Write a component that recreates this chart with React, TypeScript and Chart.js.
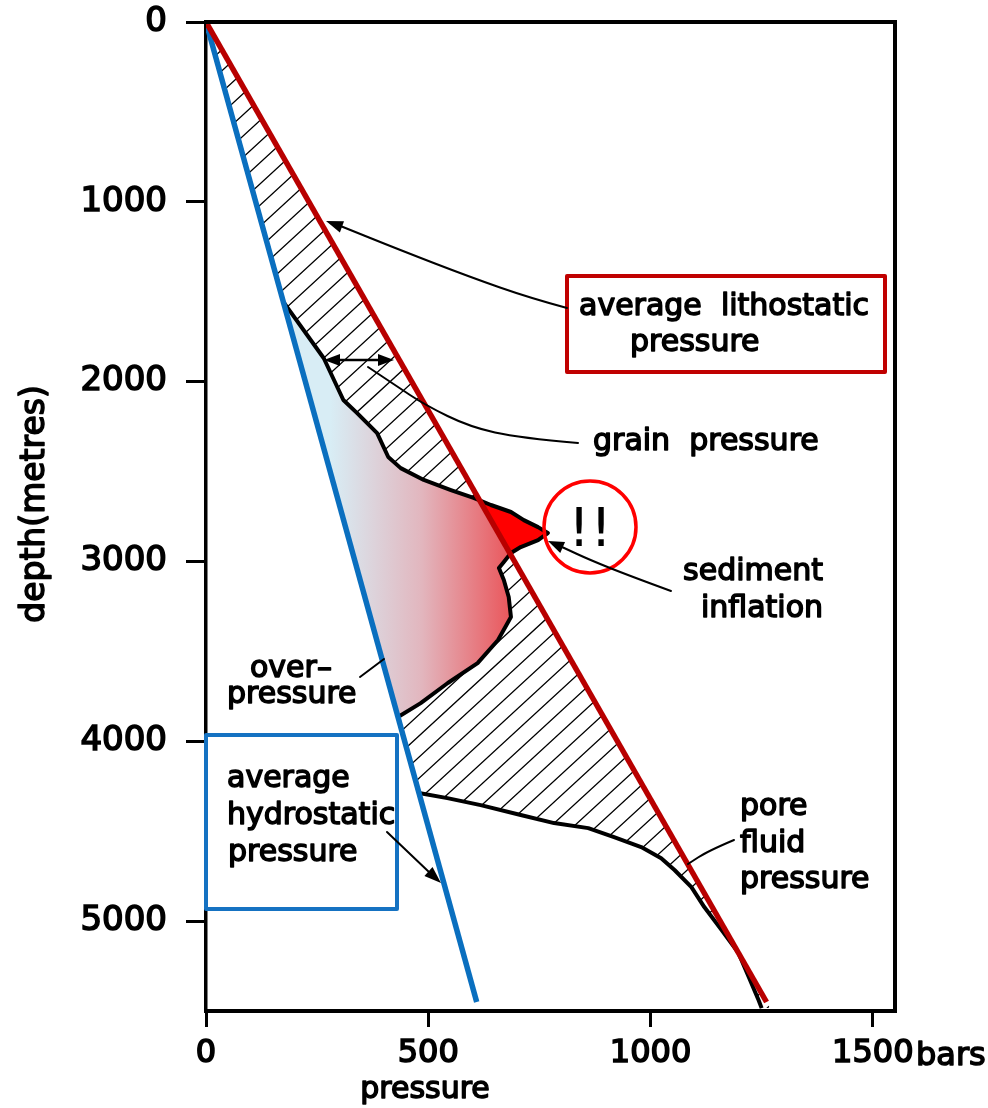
import React, { useEffect, useRef } from "react";
import { Chart, registerables } from "chart.js";

Chart.register(...registerables);

const FONT = '"DejaVu Sans", "Liberation Sans", sans-serif';

// ---------------- data ----------------
const depthTicks = [0, 1000, 2000, 3000, 4000, 5000];
const pressureTicks = [0, 500, 1000, 1500];

const lithostaticDepth = [0, 5450];
const lithostaticPressure = [0, 1261];

const hydrostaticDepth = [0, 5450];
const hydrostaticPressure = [0, 609];

const poreDepth = [
  0, 1556, 1870, 2102, 2175, 2286, 2419, 2481, 2547, 2603, 2647, 2686, 2725,
  2770, 2809, 2842, 2881, 2920, 2953, 3003, 3037, 3103, 3198, 3309, 3437, 3565,
  3676, 3788, 3865, 4288, 4316, 4355, 4410, 4455, 4483, 4533, 4588, 4650, 4716,
  4811, 4922, 5050, 5178, 5311, 5439, 5484,
];
const porePressure = [
  0, 174, 265, 309, 340, 385, 410, 438, 490, 551, 602, 641, 686,
  715, 747, 769, 747, 708, 686, 670, 659, 670, 681, 686, 657, 611,
  544, 483, 432, 479, 543, 618, 708, 783, 860, 918, 979, 1024, 1054,
  1092, 1121, 1160, 1198, 1221, 1243, 1250,
];

// depth range of the over-pressured zone (pore pressure above hydrostatic)
const overpressureTop = 1556;
const overpressureBase = 3865;

function interp(ds: number[], ps: number[], d: number): number {
  const n = ds.length;
  let i = 0;
  if (d >= ds[n - 1]) i = n - 2;
  else {
    while (i < n - 2 && ds[i + 1] < d) i++;
  }
  const t = (d - ds[i]) / (ds[i + 1] - ds[i]);
  return ps[i] + t * (ps[i + 1] - ps[i]);
}

const toPoints = (ds: number[], ps: number[]) => ds.map((d, i) => ({ x: ps[i], y: d }));

// ---------------- drawing helpers ----------------
function head(ctx: CanvasRenderingContext2D, tx: number, ty: number, fx: number, fy: number, len = 16, half = 6) {
  const a = Math.atan2(ty - fy, tx - fx);
  ctx.beginPath();
  ctx.moveTo(tx, ty);
  ctx.lineTo(tx - len * Math.cos(a) + half * Math.sin(a), ty - len * Math.sin(a) - half * Math.cos(a));
  ctx.lineTo(tx - len * Math.cos(a) - half * Math.sin(a), ty - len * Math.sin(a) + half * Math.cos(a));
  ctx.closePath();
  ctx.fill();
}

function curve(ctx: CanvasRenderingContext2D, pts: number[][], width: number) {
  ctx.beginPath();
  ctx.lineWidth = width;
  ctx.lineCap = "round";
  ctx.lineJoin = "round";
  ctx.moveTo(pts[0][0], pts[0][1]);
  for (let i = 1; i < pts.length - 1; i++) {
    const mx = (pts[i][0] + pts[i + 1][0]) / 2;
    const my = (pts[i][1] + pts[i + 1][1]) / 2;
    ctx.quadraticCurveTo(pts[i][0], pts[i][1], mx, my);
  }
  const l = pts[pts.length - 1];
  ctx.lineTo(l[0], l[1]);
  ctx.stroke();
}

function label(ctx: CanvasRenderingContext2D, s: string, x: number, y: number, size = 30, align: CanvasTextAlign = "left", stroke = 1.5) {
  ctx.font = `${size}px ${FONT}`;
  ctx.textAlign = align;
  ctx.textBaseline = "alphabetic";
  ctx.fillStyle = "#000";
  ctx.strokeStyle = "#000";
  ctx.lineJoin = "round";
  ctx.fillText(s, x, y);
  if (stroke > 0) {
    ctx.lineWidth = stroke;
    ctx.strokeText(s, x, y);
  }
}

// ---------------- plugins ----------------
const fillsPlugin = {
  id: "fills",
  beforeDatasetsDraw(chart: any) {
    const { ctx, chartArea } = chart;
    const xs = chart.scales.x;
    const ys = chart.scales.y;
    const px = (v: number) => xs.getPixelForValue(v);
    const py = (v: number) => ys.getPixelForValue(v);
    const pore = (d: number) => interp(poreDepth, porePressure, d);
    const litho = (d: number) => interp(lithostaticDepth, lithostaticPressure, d);
    const hydro = (d: number) => interp(hydrostaticDepth, hydrostaticPressure, d);

    const range = (a: number, b: number) => {
      const s: number[] = [];
      for (let d = a; d < b; d += 4) s.push(d);
      s.push(b);
      return s;
    };

    const band = (samples: number[], L: (d: number) => number, R: (d: number) => number) => {
      ctx.beginPath();
      samples.forEach((d, i) => {
        const X = px(L(d));
        const Y = py(d);
        if (i) ctx.lineTo(X, Y);
        else ctx.moveTo(X, Y);
      });
      for (let i = samples.length - 1; i >= 0; i--) ctx.lineTo(px(R(samples[i])), py(samples[i]));
      ctx.closePath();
    };

    const all = range(0, poreDepth[poreDepth.length - 1]);
    const over = range(overpressureTop, overpressureBase);

    ctx.save();
    // over-pressure gradient
    band(over, hydro, (d) => Math.max(hydro(d), Math.min(pore(d), litho(d))));
    const g = ctx.createLinearGradient(px(280), 0, px(690), 0);
    g.addColorStop(0, "#d8edf5");
    g.addColorStop(0.5, "#e2b6be");
    g.addColorStop(1, "#ea5459");
    ctx.fillStyle = g;
    ctx.fill();

    // sediment inflation (pore > lithostatic)
    band(all, litho, (d) => Math.max(litho(d), pore(d)));
    ctx.fillStyle = "#ff0000";
    ctx.fill();

    // grain pressure hatch
    band(all, pore, (d) => Math.max(pore(d), litho(d)));
    ctx.save();
    ctx.clip();
    ctx.strokeStyle = "#000";
    ctx.lineWidth = 1.3;
    const slope = 0.92;
    const top = chartArea.top;
    const bot = chartArea.bottom;
    const span = (bot - top) / slope;
    ctx.beginPath();
    for (let x0 = chartArea.left - span; x0 < chartArea.right + 20; x0 += 23) {
      ctx.moveTo(x0, bot);
      ctx.lineTo(x0 + span, top);
    }
    ctx.stroke();
    ctx.restore();
    ctx.restore();
  },
};

const annotPlugin = {
  id: "annot",
  afterDraw(chart: any) {
    const { ctx, chartArea } = chart;
    ctx.save();
    // frame top & right
    ctx.strokeStyle = "#000";
    ctx.lineWidth = 4;
    ctx.lineCap = "square";
    ctx.beginPath();
    ctx.moveTo(chartArea.left, chartArea.top);
    ctx.lineTo(chartArea.right, chartArea.top);
    ctx.lineTo(chartArea.right, chartArea.bottom);
    ctx.stroke();

    // axis titles
    label(ctx, "pressure", 425, 1098, 30, "center");
    label(ctx, "bars", 916, 1065, 32, "left");
    ctx.save();
    ctx.translate(44, 504);
    ctx.rotate(-Math.PI / 2);
    label(ctx, "depth(metres)", 0, 0, 33, "center");
    ctx.restore();

    // lithostatic box
    ctx.strokeStyle = "#c00000";
    ctx.lineWidth = 4;
    ctx.strokeRect(567, 276, 318, 96);
    label(ctx, "average  lithostatic", 579, 315);
    label(ctx, "pressure", 630, 351);
    ctx.strokeStyle = "#000";
    ctx.fillStyle = "#000";
    curve(ctx, [[567, 308], [530, 298], [470, 277], [400, 250], [338, 225]], 2);
    head(ctx, 326, 221, 345, 228, 17, 6);

    // grain pressure
    label(ctx, "grain  pressure", 593, 450);
    ctx.strokeStyle = "#000";
    curve(ctx, [[578, 443], [520, 438], [470, 427], [425, 405], [395, 385], [368, 367]], 2);
    ctx.lineWidth = 2.5;
    ctx.beginPath();
    ctx.moveTo(335, 360);
    ctx.lineTo(382, 360);
    ctx.stroke();
    ctx.fillStyle = "#000";
    head(ctx, 324, 360, 340, 360, 16, 6);
    head(ctx, 394, 360, 378, 360, 16, 6);

    // sediment inflation
    ctx.strokeStyle = "#ff0000";
    ctx.lineWidth = 3.5;
    ctx.beginPath();
    ctx.arc(590, 527, 46, 0, Math.PI * 2);
    ctx.stroke();
    label(ctx, "!", 579, 546, 54, "center", 0);
    label(ctx, "!", 601, 546, 54, "center", 0);
    label(ctx, "sediment", 823, 580, 30, "right");
    label(ctx, "inflation", 823, 617, 30, "right");
    ctx.strokeStyle = "#000";
    ctx.fillStyle = "#000";
    curve(ctx, [[671, 591], [630, 576], [590, 560], [562, 547]], 2);
    head(ctx, 548, 541, 564, 548, 16, 6);

    // over-pressure
    label(ctx, "over–", 250, 677);
    label(ctx, "pressure", 227, 703);
    ctx.strokeStyle = "#000";
    ctx.lineWidth = 2;
    ctx.beginPath();
    ctx.moveTo(360, 677);
    ctx.lineTo(384, 659);
    ctx.stroke();

    // hydrostatic box
    ctx.strokeStyle = "#1572c2";
    ctx.lineWidth = 4;
    ctx.strokeRect(206, 735, 191, 174);
    label(ctx, "average", 227, 787);
    label(ctx, "hydrostatic", 227, 824);
    label(ctx, "pressure", 228, 861);
    ctx.strokeStyle = "#000";
    ctx.fillStyle = "#000";
    ctx.lineWidth = 2;
    ctx.beginPath();
    ctx.moveTo(387, 832);
    ctx.lineTo(430, 873);
    ctx.stroke();
    head(ctx, 441, 883, 429, 872, 17, 6);

    // pore fluid pressure
    label(ctx, "pore", 740, 815);
    label(ctx, "fluid", 740, 852);
    label(ctx, "pressure", 740, 888);
    curve(ctx, [[734, 840], [708, 851], [688, 864]], 2);
    ctx.restore();
  },
};

export default function App() {
  const ref = useRef<HTMLCanvasElement | null>(null);
  useEffect(() => {
    if (!ref.current) return;
    const chart = new Chart(ref.current, {
      type: "scatter",
      data: {
        datasets: [
          {
            label: "average lithostatic pressure",
            data: toPoints(lithostaticDepth, lithostaticPressure),
            showLine: true,
            borderColor: "#b80000",
            borderWidth: 5.5,
            pointRadius: 0,
            order: 0,
          },
          {
            label: "average hydrostatic pressure",
            data: toPoints(hydrostaticDepth, hydrostaticPressure),
            showLine: true,
            borderColor: "#0a6fbf",
            borderWidth: 5.5,
            pointRadius: 0,
            order: 1,
          },
          {
            label: "pore fluid pressure",
            data: toPoints(poreDepth, porePressure),
            showLine: true,
            borderColor: "#000000",
            borderWidth: 4,
            borderJoinStyle: "round",
            pointRadius: 0,
            order: 2,
          },
        ],
      } as any,
      options: {
        animation: false,
        responsive: false,
        maintainAspectRatio: false,
        devicePixelRatio: 1,
        layout: { padding: { left: 0, top: 22, right: 93, bottom: 0 } },
        plugins: { legend: { display: false }, tooltip: { enabled: false } },
        scales: {
          x: {
            type: "linear",
            position: "bottom",
            min: 0,
            max: 1550,
            afterFit: (s: any) => {
              s.height = 97;
              s.paddingLeft = 0;
              s.paddingRight = 0;
            },
            afterBuildTicks: (s: any) => {
              s.ticks = pressureTicks.map((v) => ({ value: v }));
            },
            grid: { drawOnChartArea: false, drawTicks: true, tickLength: 16, tickWidth: 3, tickColor: "#000", color: "#000", lineWidth: 3 },
            border: { display: true, color: "#000", width: 4 },
            ticks: {
              font: { family: FONT, size: 32 },
              color: "#000",
              padding: 7,
              maxRotation: 0,
              autoSkip: false,
              textStrokeColor: "#000",
              textStrokeWidth: 1.6,
              callback: (v: any) => String(v),
            },
          },
          y: {
            type: "linear",
            reverse: true,
            min: 0,
            max: 5500,
            afterFit: (s: any) => {
              s.width = 206;
              s.paddingTop = 0;
              s.paddingBottom = 0;
            },
            afterBuildTicks: (s: any) => {
              s.ticks = depthTicks.map((v) => ({ value: v }));
            },
            grid: { drawOnChartArea: false, drawTicks: true, tickLength: 20, tickWidth: 3, tickColor: "#000", color: "#000", lineWidth: 3 },
            border: { display: true, color: "#000", width: 3.5 },
            ticks: {
              font: { family: FONT, size: 34 },
              color: "#000",
              padding: 19,
              autoSkip: false,
              textStrokeColor: "#000",
              textStrokeWidth: 1.6,
              callback: (v: any) => String(v),
            },
          },
        },
      } as any,
      plugins: [fillsPlugin, annotPlugin],
    });
    return () => chart.destroy();
  }, []);
  return (
    <div style={{ position: "absolute", left: 0, top: 0, width: 988, height: 1108, background: "#fff" }}>
      <canvas ref={ref} width={988} height={1108} style={{ display: "block", width: 988, height: 1108 }} />
    </div>
  );
}
